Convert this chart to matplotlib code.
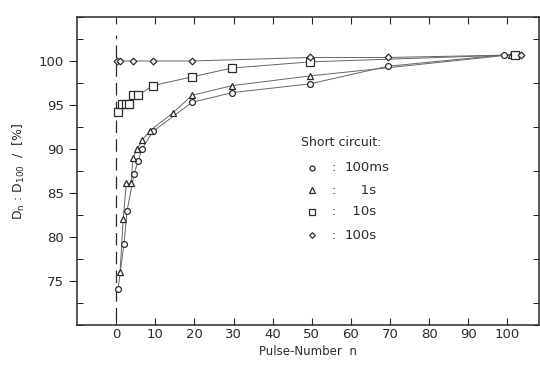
import numpy as np
import matplotlib
matplotlib.use('Agg')
import matplotlib.pyplot as plt
from matplotlib.ticker import MultipleLocator

# pulse number n and D_n : D_100 in % for each short-circuit duration
n_100ms = [0.5, 2.0, 2.8, 4.6, 5.6, 6.6, 9.4, 19.4, 29.6, 49.5, 69.4, 99.2]
d_100ms = [74.1, 79.2, 83.0, 87.2, 88.6, 90.0, 92.0, 95.3, 96.4, 97.4, 99.4, 100.7]

n_1s = [1.0, 1.8, 2.6, 3.8, 4.3, 5.4, 6.6, 8.7, 14.5, 19.4, 29.6, 49.5, 100.8]
d_1s = [76.0, 82.0, 86.1, 86.1, 89.0, 90.0, 91.0, 92.1, 94.1, 96.1, 97.2, 98.3, 100.7]

n_10s = [0.5, 1.5, 2.5, 3.3, 4.3, 5.6, 9.4, 19.4, 29.6, 49.5, 102.0]
d_10s = [94.2, 95.1, 95.1, 95.1, 96.1, 96.1, 97.2, 98.2, 99.2, 99.9, 100.7]

n_100s = [0.3, 1.0, 4.3, 9.4, 19.4, 49.5, 69.4, 103.6]
d_100s = [100.0, 100.0, 100.0, 100.0, 100.0, 100.4, 100.4, 100.7]

# figure spaces keep the digits lined up like on a typewriter
legend_labels = ['100ms', '\u2007\u20071s', '\u200710s', '100s']
markers = ['o', '^', 's', 'D']
sizes = [4.2, 4.6, 5.6, 3.4]

fig = plt.figure(figsize=(5.4, 3.67), dpi=100)
ax = fig.add_axes([0.1426, 0.1144, 0.855, 0.8393])

ink = '#2a2a2a'
series = [(n_100ms, d_100ms), (n_1s, d_1s), (n_10s, d_10s), (n_100s, d_100s)]
for (xs, ys), m, ms in zip(series, markers, sizes):
    ax.plot(xs, ys, '-', color='#666666', lw=0.7, zorder=1)
    ax.plot(xs, ys, m, ms=ms, mfc='white', mec=ink, mew=0.9, zorder=2)

# dashed line at n = 0
ax.axvline(0, ymin=0.016, ymax=0.94, color=ink, lw=0.9, ls=(0, (10, 5)), zorder=0)

ax.set_xlim(-10, 108)
ax.set_ylim(70, 105)
ax.set_xticks(np.arange(0, 101, 10))
ax.set_yticks(np.arange(75, 101, 5))
ax.yaxis.set_minor_locator(MultipleLocator(2.5))
ax.tick_params(axis='x', which='major', direction='in', length=5, top=True,
               labelsize=9.5, colors=ink, pad=2)
ax.tick_params(axis='y', which='major', direction='out', length=6,
               labelsize=9.5, colors=ink)
ax.tick_params(axis='y', which='minor', direction='in', length=4, right=True)
for s in ax.spines.values():
    s.set_color(ink)
    s.set_linewidth(1.1)

ax.set_xlabel('Pulse-Number  n', fontsize=8.5, color=ink, labelpad=3)
ax.set_ylabel(r'$\mathregular{D_n}$ : $\mathregular{D_{100}}$  /  [%]', fontsize=9,
              color=ink, labelpad=8)

# legend drawn as text block
ax.text(0.486, 0.591, 'Short circuit:', transform=ax.transAxes, fontsize=9,
        color=ink, va='center', ha='left')
ys_leg = [0.510, 0.438, 0.367, 0.292]
for lab, m, ms, yl in zip(legend_labels, markers, sizes, ys_leg):
    ax.plot([0.508], [yl], m, ms=ms * 0.85, mfc='white', mec=ink, mew=0.9,
            transform=ax.transAxes)
    ax.text(0.552, yl, ':', transform=ax.transAxes, fontsize=9, color=ink,
            va='center', ha='left')
    ax.text(0.579, yl, lab, transform=ax.transAxes, fontsize=9.5, color=ink,
            va='center', ha='left')

fig.savefig('out.png', dpi=100)
